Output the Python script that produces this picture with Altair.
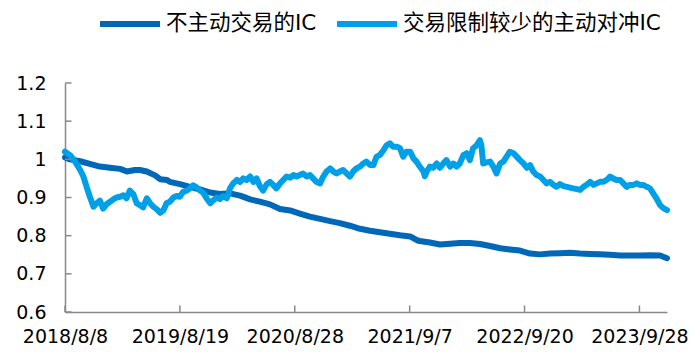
import altair as alt
import pandas as pd

series_names = ["不主动交易的IC", "交易限制较少的主动对冲IC"]
series_colors = ["#0068B7", "#00A0E9"]

# trading-day index (0 = 2018/8/8)
tick_days = [0, 250, 500, 750, 1000, 1250]
tick_labels = ["2018/8/8", "2019/8/19", "2020/8/28", "2021/9/7", "2022/9/20", "2023/9/28"]
y_ticks = [0.6, 0.7, 0.8, 0.9, 1.0, 1.1, 1.2]

dark_days = [0, 11, 33, 54, 76, 98, 120, 135, 152, 163, 178, 196, 207, 222, 228, 250, 272, 294, 316, 337,
             359, 381, 403, 424, 446, 468, 490, 511, 533, 555, 577, 598, 620, 642, 664, 685, 707, 729, 751,
             766, 772, 794, 816, 838, 859, 881, 903, 925, 947, 968, 990, 1012, 1034, 1055, 1077, 1099, 1121,
             1143, 1164, 1186, 1208, 1229, 1251, 1273, 1295, 1310]
dark_vals = [1.005, 1.0, 0.995, 0.988, 0.981, 0.978, 0.975, 0.968, 0.972, 0.972, 0.968, 0.958, 0.948, 0.946,
             0.941, 0.935, 0.928, 0.921, 0.913, 0.909, 0.911, 0.905, 0.895, 0.889, 0.882, 0.87, 0.866, 0.858,
             0.85, 0.844, 0.838, 0.833, 0.826, 0.818, 0.813, 0.809, 0.805, 0.801, 0.798, 0.788, 0.786, 0.782,
             0.777, 0.779, 0.781, 0.781, 0.778, 0.773, 0.767, 0.764, 0.761, 0.753, 0.751, 0.753, 0.754, 0.755,
             0.753, 0.752, 0.751, 0.75, 0.748, 0.748, 0.748, 0.749, 0.748, 0.741]

light_days = [0, 11, 22, 33, 40, 47, 54, 62, 69, 76, 83, 91, 98, 105, 112, 120, 127, 134, 141, 149, 156, 163,
              170, 178, 185, 192, 200, 207, 214, 221, 228, 236, 243, 250, 257, 265, 272, 279, 287, 294, 301,
              308, 316, 323, 330, 337, 344, 352, 359, 366, 374, 381, 388, 395, 403, 410, 417, 424, 431, 439,
              446, 453, 460, 468, 475, 482, 490, 497, 504, 511, 518, 526, 533, 540, 547, 555, 562, 569, 577,
              584, 591, 598, 605, 613, 620, 627, 634, 642, 649, 656, 664, 671, 678, 685, 693, 700, 707, 714,
              722, 729, 736, 743, 751, 758, 765, 772, 780, 783, 787, 794, 801, 809, 816, 823, 830, 838, 845,
              852, 859, 867, 874, 881, 888, 896, 903, 906, 910, 917, 925, 932, 939, 947, 954, 961, 968, 976,
              983, 990, 997, 1005, 1012, 1019, 1026, 1034, 1041, 1048, 1055, 1063, 1070, 1077, 1085, 1092,
              1099, 1106, 1114, 1121, 1128, 1135, 1143, 1150, 1157, 1164, 1171, 1179, 1186, 1193, 1200, 1208,
              1215, 1222, 1229, 1237, 1244, 1251, 1258, 1266, 1273, 1280, 1287, 1295, 1302, 1310]
light_vals = [1.02, 1.011, 0.994, 0.972, 0.955, 0.928, 0.902, 0.876, 0.885, 0.892, 0.871, 0.883, 0.889, 0.895,
              0.9, 0.902, 0.906, 0.898, 0.918, 0.908, 0.885, 0.88, 0.874, 0.898, 0.885, 0.876, 0.869, 0.86,
              0.866, 0.885, 0.889, 0.9, 0.904, 0.902, 0.915, 0.918, 0.924, 0.932, 0.926, 0.918, 0.912, 0.898,
              0.885, 0.893, 0.9, 0.896, 0.904, 0.898, 0.924, 0.937, 0.946, 0.941, 0.95, 0.946, 0.955, 0.941,
              0.95, 0.93, 0.918, 0.935, 0.941, 0.933, 0.924, 0.937, 0.946, 0.955, 0.952, 0.959, 0.955, 0.959,
              0.963, 0.955, 0.959, 0.95, 0.941, 0.937, 0.955, 0.968, 0.976, 0.968, 0.963, 0.968, 0.972, 0.963,
              0.955, 0.968, 0.976, 0.981, 0.989, 0.994, 0.985, 0.985, 1.007, 1.011, 1.024, 1.037, 1.042, 1.033,
              1.033, 1.029, 1.007, 1.02, 1.02, 1.003, 0.994, 0.981, 0.968, 0.956, 0.968, 0.981, 0.978, 0.989,
              0.978, 0.989, 0.998, 0.981, 0.989, 0.981, 0.989, 1.011, 1.016, 0.998, 1.029, 1.037, 1.05, 1.037,
              0.989, 0.992, 0.994, 0.981, 0.963, 0.989, 0.994, 1.007, 1.02, 1.016, 1.007, 0.998, 0.99, 0.978,
              0.985, 0.968, 0.959, 0.955, 0.946, 0.937, 0.941, 0.933, 0.928, 0.935, 0.93, 0.928, 0.926, 0.924,
              0.922, 0.92, 0.928, 0.933, 0.941, 0.933, 0.937, 0.941, 0.941, 0.946, 0.955, 0.95, 0.946, 0.946,
              0.937, 0.928, 0.933, 0.933, 0.937, 0.933, 0.933, 0.928, 0.924, 0.911, 0.898, 0.88, 0.872, 0.867]

if len(dark_days) != len(dark_vals) or len(light_days) != len(light_vals):
    raise ValueError("length mismatch")

rows = []
for i, (d, v) in enumerate(zip(dark_days, dark_vals)):
    rows.append({"day": d, "value": v, "series": series_names[0], "order": i})
for i, (d, v) in enumerate(zip(light_days, light_vals)):
    rows.append({"day": d, "value": v, "series": series_names[1], "order": i})
df = pd.DataFrame(rows)

x_max = 1310
xscale = alt.Scale(domain=[0, x_max], nice=False, zero=False)
yscale = alt.Scale(domain=[0.6, 1.2], nice=False, zero=False)

label_expr = ""
for d, lab in zip(tick_days, tick_labels):
    label_expr += f"datum.value == {d} ? '{lab}' : "
label_expr += "''"

xaxis = alt.Axis(values=tick_days, labelExpr=label_expr, title=None, ticks=False,
                 labelPadding=15, labelFlush=False, labelOverlap=False)
yaxis = alt.Axis(values=y_ticks, format=".1~f", title=None, ticks=False, labelPadding=19,
                 labelOverlap=False, labelFlush=False)

lines = alt.Chart(df).mark_line(strokeWidth=6, strokeCap="round", strokeJoin="round").encode(
    x=alt.X("day:Q", scale=xscale, axis=xaxis),
    y=alt.Y("value:Q", scale=yscale, axis=yaxis),
    color=alt.Color("series:N",
                    scale=alt.Scale(domain=series_names, range=series_colors),
                    legend=alt.Legend(title=None, orient="none", direction="horizontal",
                                      legendX=32, legendY=-92, symbolType="stroke",
                                      symbolSize=3600, symbolStrokeWidth=6, labelOffset=3,
                                      columnPadding=8, padding=0,
                                      labelFont="DejaVu Sans, Noto Sans CJK SC", labelFontSize=21.5,
                                      labelColor="#000000", labelLimit=400)),
    order="order:Q",
)

xt = pd.DataFrame({"day": tick_days})
yt = pd.DataFrame({"value": y_ticks})
xticks = alt.Chart(xt).mark_rule(color="#898989", strokeWidth=1.5).encode(
    x=alt.X("day:Q", scale=xscale, axis=xaxis), y=alt.value(229), y2=alt.value(222.5))
yticks = alt.Chart(yt).mark_rule(color="#898989", strokeWidth=1.5).encode(
    y=alt.Y("value:Q", scale=yscale, axis=yaxis), x=alt.value(0), x2=alt.value(6.5))

chart = alt.layer(lines, xticks, yticks).properties(
    width=602, height=229,
    autosize=alt.AutoSizeParams(type="none"),
    padding={"left": 65, "top": 83, "right": 29, "bottom": 45},
).configure_view(stroke=None).configure_axis(
    labelFont="DejaVu Sans", labelFontSize=19, labelColor="#000000",
    domainColor="#898989", domainWidth=1.5, grid=False,
)

chart.save("out.html", embed_options={"renderer": "svg", "actions": False})
